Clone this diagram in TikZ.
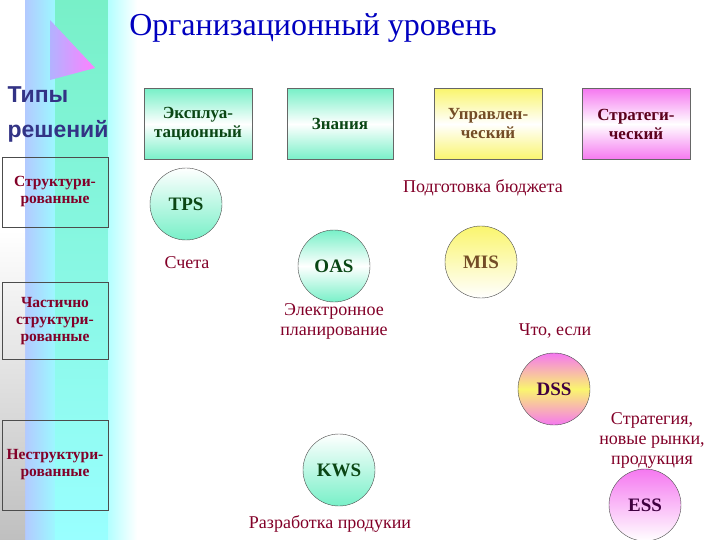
\documentclass[tikz,border=0pt]{standalone}
\usepackage{fontspec}
\setmainfont{Liberation Serif}
\newfontfamily\lsans{Liberation Sans}
\begin{document}
\begin{tikzpicture}[x=1pt,y=-1pt,
  lbl/.style={text=txtred,font=\fontsize{18}{20}\selectfont,align=center},
  lbox/.style={draw=black!70,minimum width=106pt,minimum height=70pt,align=center,text=txtred,font=\bfseries\fontsize{15.5}{17}\selectfont},
  tbox/.style={draw=black!60,minimum width=108pt,minimum height=71pt,align=center,font=\bfseries\fontsize{17}{19}\selectfont},
  circ/.style={circle,draw=black!70,minimum size=72pt,font=\bfseries\fontsize{19}{21}\selectfont}]
\definecolor{txtred}{RGB}{130,0,40}
\definecolor{dgreen}{RGB}{10,70,20}
\definecolor{aqua}{RGB}{120,240,200}
\definecolor{pinkm}{RGB}{245,120,240}
\definecolor{yel}{RGB}{250,245,110}
\useasboundingbox (0,0) rectangle (720,540);
% decorative strip
\shade[left color=cyan!30!blue!30,right color=cyan!40] (25,0) rectangle (60,540);
\shade[top color=aqua,bottom color=cyan!40] (55,0) rectangle (112,540);
\shade[left color=cyan!30,right color=white] (108,0) rectangle (137,540);
\shade[top color=white,bottom color=black!25] (0,230) -- (25,230) -- (25,540) -- (0,540) -- cycle;
\fill[white] (0,0) rectangle (25,230);
\shade[left color=blue!30,right color=magenta!50] (50,20) -- (95,68) -- (50,80) -- cycle;
% title
\node[text=blue!75!black,font=\fontsize{32}{34}\selectfont] (title) at (313,28) {Организационный уровень};
\node[anchor=west,text=blue!40!black!80,font=\lsans\bfseries\fontsize{23}{25}\selectfont] (t1) at (4,95) {Типы};
\node[anchor=west,text=blue!40!black!80,font=\lsans\bfseries\fontsize{23}{25}\selectfont] (t2) at (4,131) {решений};
% left boxes
\node[lbox] (s1) at (55,192) {Структури-\\рованные};
\node[lbox,minimum height=77pt] (s2) at (55,321) {Частично\\структури-\\рованные};
\node[lbox,minimum height=90pt] (s3) at (55,465) {Неструктури-\\рованные};
% top boxes
\node[tbox,top color=aqua,bottom color=aqua,middle color=white,text=dgreen] (b1) at (198,124) {Эксплуа-\\тационный};
\node[tbox,top color=aqua,bottom color=aqua,middle color=white,text=dgreen,minimum width=106pt] (b2) at (340,124) {Знания};
\node[tbox,top color=yel,bottom color=yel,middle color=white,text=brown!60!black] (b3) at (488,124) {Управлен-\\ческий};
\node[tbox,top color=pinkm,bottom color=pinkm,middle color=white,text=txtred!70!black] (b4) at (636,124) {Стратеги-\\ческий};
% circles
\node[circ,top color=white,bottom color=aqua,text=dgreen] (tps) at (186,204) {TPS};
\node[circ,top color=aqua,bottom color=aqua,middle color=white,text=dgreen] (oas) at (334,266) {OAS};
\node[circ,top color=yel,bottom color=white,text=brown!60!black] (mis) at (481,262) {MIS};
\node[circ,top color=pinkm,bottom color=pinkm,middle color=yel,text=violet!50!black] (dss) at (554,389) {DSS};
\node[circ,top color=white,bottom color=aqua,text=dgreen] (kws) at (339,470) {KWS};
\node[circ,top color=pinkm,bottom color=white,text=violet!50!black] (ess) at (645,505) {ESS};
% labels
\node[lbl] (l1) at (483,188) {Подготовка бюджета};
\node[lbl] (l2) at (187,263) {Счета};
\node[lbl] (l3) at (334,321) {Электронное\\планирование};
\node[lbl] (l4) at (555,331) {Что, если};
\node[lbl] (l5) at (652,440) {Стратегия,\\новые рынки,\\продукция};
\node[lbl] (l6) at (330,524) {Разработка продукии};
\end{tikzpicture}
\end{document}
